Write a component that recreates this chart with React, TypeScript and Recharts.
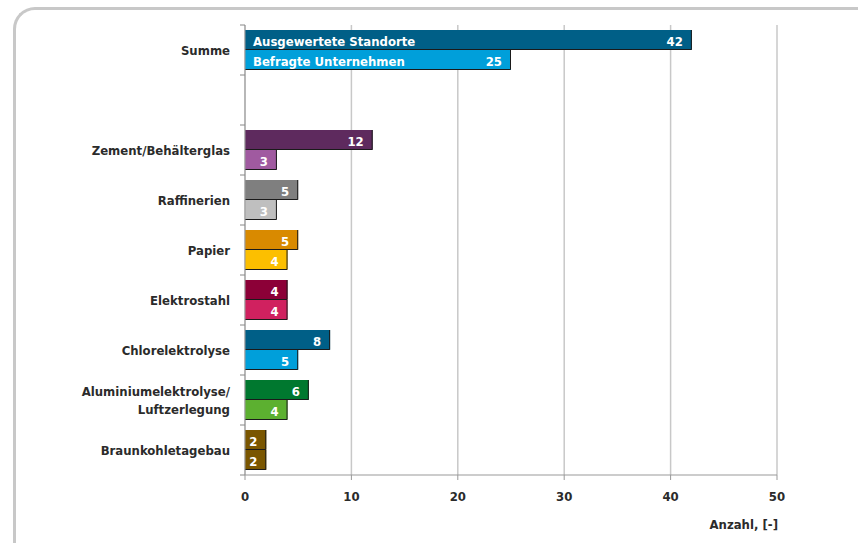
import React from "react";
import { BarChart, Bar, XAxis, YAxis, CartesianGrid, Cell, LabelList } from "recharts";

const categories = [
  "Summe",
  " ",
  "Zement/Behälterglas",
  "Raffinerien",
  "Papier",
  "Elektrostahl",
  "Chlorelektrolyse",
  "Aluminiumelektrolyse/ Luftzerlegung",
  "Braunkohletagebau",
];
const standorte = [42, null, 12, 5, 5, 4, 8, 6, 2];
const unternehmen = [25, null, 3, 3, 4, 4, 5, 4, 2];
const seriesNames = ["Ausgewertete Standorte", "Befragte Unternehmen"];
const darkColors = ["#005f87", "#005f87", "#5e2a5e", "#7f7f7f", "#d98a00", "#8c0037", "#005f87", "#00782f", "#7a5600"];
const lightColors = ["#009fda", "#009fda", "#a05aa0", "#bfbfbf", "#fcbf00", "#d0215f", "#009fda", "#5cb030", "#7a5600"];
const xTicks = [0, 10, 20, 30, 40, 50];

const data = categories.map((name, i) => ({
  name,
  standorte: standorte[i],
  unternehmen: unternehmen[i],
}));

const FONT = "'DejaVu Sans Condensed', 'Liberation Sans Narrow', sans-serif";
const TXT = "#2b2b2b";

const BarShape = (props: any) => {
  const { x, y, width, height, fill } = props;
  if (!width || width <= 0) return null;
  return (
    <g>
      <rect x={x} y={y} width={width} height={height} fill={fill} />
      <path d={`M${x},${y + height - 0.5} L${x + width - 0.5},${y + height - 0.5} L${x + width - 0.5},${y}`} stroke="#1a1a1a" strokeWidth={1} fill="none" />
    </g>
  );
};

const YTick = (props: any) => {
  const { x, y, payload, index } = props;
  const half = payload && payload.offset ? payload.offset : 25;
  const lines = String(payload.value).split("/ ");
  const shown = lines.length > 1 ? [lines[0] + "/", lines[1]] : lines;
  const lh = 18;
  const startY = y - ((shown.length - 1) * lh) / 2;
  return (
    <g>
      <line x1={x + 1} x2={x + 6} y1={y - half} y2={y - half} stroke="#888" />
      {index === categories.length - 1 && (
        <line x1={x + 1} x2={x + 6} y1={y + half} y2={y + half} stroke="#888" />
      )}
      <text x={x - 9} y={startY} textAnchor="end" dominantBaseline="central" fontFamily={FONT} fontWeight="bold" fontSize={13} fill={TXT}>
        {shown.map((l, i) => (
          <tspan key={i} x={x - 9} dy={i === 0 ? 0 : lh}>
            {l}
          </tspan>
        ))}
      </text>
    </g>
  );
};

const nameLabel = (seriesIdx: number) => (props: any) => {
  const { x, y, height, index } = props;
  if (index !== 0) return null;
  return (
    <text x={x + 8} y={y + height / 2 + 1} dominantBaseline="central" fontFamily={FONT} fontWeight="bold" fontSize={13} fill="#fff">
      {seriesNames[seriesIdx]}
    </text>
  );
};

const valueLabel = (props: any) => {
  const { x, y, width, height, value } = props;
  if (value == null) return null;
  return (
    <text x={x + width - 9} y={y + height / 2 + 1} textAnchor="end" dominantBaseline="central" fontFamily={FONT} fontWeight="bold" fontSize={13} fill="#fff">
      {value}
    </text>
  );
};

export default function App() {
  return (
    <div style={{ position: "absolute", left: 0, top: 0, width: 858, height: 543, overflow: "hidden", background: "#fff" }}>
      <div
        style={{
          position: "absolute",
          left: 13,
          top: 7,
          width: 1000,
          height: 800,
          borderTop: "3px solid #c8c8c8",
          borderLeft: "3px solid #c8c8c8",
          borderTopLeftRadius: 22,
        }}
      />
      <div style={{ position: "absolute", left: 0, top: 0 }}>
        <BarChart
          width={858}
          height={543}
          data={data}
          layout="vertical"
          margin={{ top: 25, right: 81, bottom: 0, left: 0 }}
          barCategoryGap="10%"
          barGap={0}
        >
          <CartesianGrid horizontal={false} vertical={true} stroke="#c8c8c8" strokeWidth={1.5} />
          <XAxis
            type="number"
            domain={[0, 50]}
            ticks={xTicks}
            height={68}
            axisLine={{ stroke: "#999" }}
            tickLine={{ stroke: "#999" }}
            tickSize={5}
            tickMargin={12}
            tick={{ fontFamily: FONT, fontWeight: "bold", fontSize: 13, fill: TXT }}
            label={(p: any) => {
              const vb = p.viewBox;
              return (
                <text x={vb.x + vb.width + 1} y={vb.y + 54} textAnchor="end" fontFamily={FONT} fontWeight="bold" fontSize={13} fill={TXT}>
                  Anzahl, [-]
                </text>
              );
            }}
          />
          <YAxis
            type="category"
            dataKey="name"
            width={245}
            axisLine={{ stroke: "#999" }}
            tickLine={false}
            tick={<YTick />}
            interval={0}
            tickMargin={0}
          />
          <Bar dataKey="standorte" isAnimationActive={false} shape={<BarShape />}>
            {data.map((_, i) => (
              <Cell key={i} fill={darkColors[i]} />
            ))}
            <LabelList dataKey="standorte" content={nameLabel(0)} />
            <LabelList dataKey="standorte" content={valueLabel} />
          </Bar>
          <Bar dataKey="unternehmen" isAnimationActive={false} shape={<BarShape />}>
            {data.map((_, i) => (
              <Cell key={i} fill={lightColors[i]} />
            ))}
            <LabelList dataKey="unternehmen" content={nameLabel(1)} />
            <LabelList dataKey="unternehmen" content={valueLabel} />
          </Bar>
        </BarChart>
      </div>
    </div>
  );
}
